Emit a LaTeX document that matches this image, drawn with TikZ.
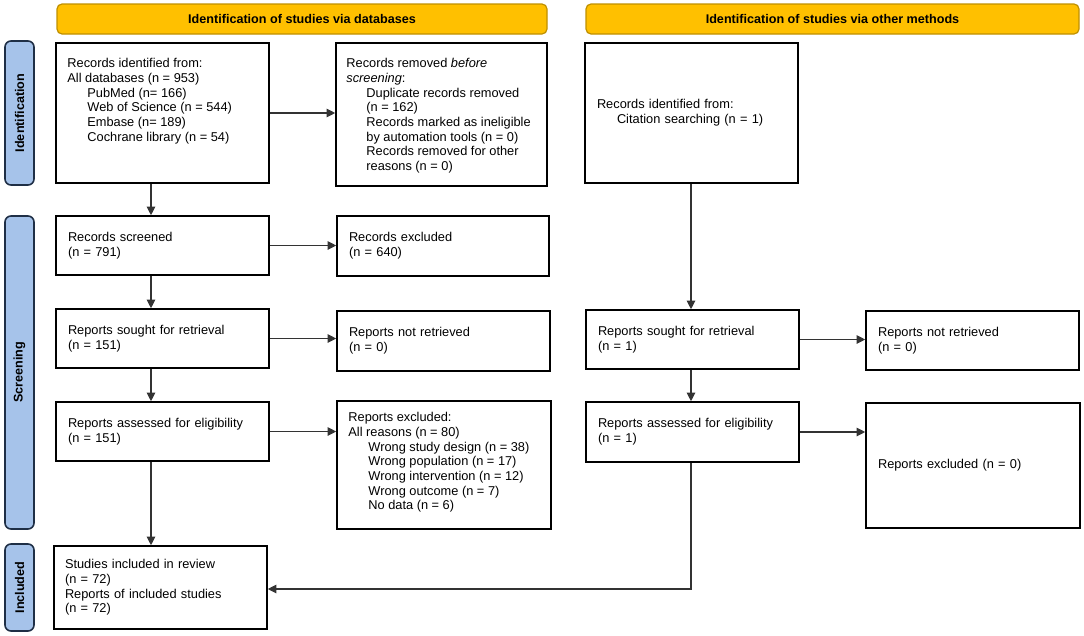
\documentclass[tikz,border=0pt]{standalone}
\usepackage{fontspec}
\setmainfont{Liberation Sans}
\usetikzlibrary{arrows.meta,calc}
\definecolor{hdrfill}{HTML}{FFC000}
\definecolor{hdrdraw}{HTML}{BF9000}
\definecolor{barfill}{HTML}{A6C3EA}
\definecolor{bardraw}{HTML}{1F2F46}
\definecolor{linec}{HTML}{333333}
\begin{document}
\begin{tikzpicture}[x=1pt,y=-1pt,
  basefont/.style={font=\fontsize{12.8}{14.7}\selectfont},
  hdr/.style={draw=hdrdraw, fill=hdrfill, line width=1.2pt, rounded corners=5pt,
    font=\fontsize{12.6}{14.7}\selectfont\bfseries, inner sep=0pt},
  bar/.style={draw=bardraw, fill=barfill, line width=1.6pt, rounded corners=6pt,
    inner sep=0pt, rotate=90, font=\fontsize{12.6}{14.7}\selectfont\bfseries},
  box/.style={basefont, draw=black, line width=1.6pt, fill=white,
    inner xsep=12pt, inner ysep=0pt, align=left},
  txt/.style={basefont, inner sep=0pt, align=left},
  arr/.style={draw=linec, line width=1.1pt, -{Triangle[length=8.5pt,width=8.5pt]}},
  ln/.style={draw=linec, line width=1.1pt}
]
\useasboundingbox (0,0) rectangle (1084,635);

% headers
\node[hdr, minimum width=490, minimum height=30] (h1) at (302,19) {Identification of studies via databases};
\node[hdr, minimum width=493, minimum height=30] (h2) at (832.5,19) {Identification of studies via other methods};

% side bars
\node[bar, minimum width=144, minimum height=29] (bid) at (19.5,113) {Identification};
\node[bar, minimum width=313, minimum height=29] (bscr) at (19.5,372.5) {Screening};
\node[bar, minimum width=87, minimum height=29] (binc) at (19.5,587.5) {Included};

% left column
\node[box, minimum width=213, minimum height=140] (ident) at (162.5,113) {};
\node[txt, anchor=north west] (identt) at ([shift={(12,16)}]ident.north west)
  {Records identified from:\\All databases (n = 953)\\
   \hspace*{20pt}PubMed (n= 166)\\\hspace*{20pt}Web of Science (n = 544)\\
   \hspace*{20pt}Embase (n= 189)\\\hspace*{20pt}Cochrane library (n = 54)};

\node[box, minimum width=211, minimum height=143] (removed) at (441.5,114.5) {};
\node[txt, anchor=north west] (removedt) at ([shift={(11,16)}]removed.north west)
  {Records removed \textit{before}\\\textit{screening}:\\
   \hspace*{20pt}Duplicate records removed\\\hspace*{20pt}(n = 162)\\
   \hspace*{20pt}Records marked as ineligible\\\hspace*{20pt}by automation tools (n = 0)\\
   \hspace*{20pt}Records removed for other\\\hspace*{20pt}reasons (n = 0)};

\node[box, minimum width=213, minimum height=59, text width=189] (screened) at (162.5,245.5)
  {Records screened\\(n = 791)};
\node[box, minimum width=212, minimum height=60, text width=188] (excl) at (443,246)
  {Records excluded\\(n = 640)};

\node[box, minimum width=213, minimum height=59, text width=189] (sought) at (162.5,338.5)
  {Reports sought for retrieval\\(n = 151)};
\node[box, minimum width=213, minimum height=60, text width=189] (notret) at (443.5,341)
  {Reports not retrieved\\(n = 0)};

\node[box, minimum width=213, minimum height=59, text width=189] (assessed) at (162.5,431.5)
  {Reports assessed for eligibility\\(n = 151)};
\node[box, minimum width=214, minimum height=128] (exclrep) at (444,465) {};
\node[txt, anchor=north west] (exclrept) at ([shift={(12,12)}]exclrep.north west)
  {Reports excluded:\\All reasons (n = 80)\\
   \hspace*{20pt}Wrong study design (n = 38)\\\hspace*{20pt}Wrong population (n = 17)\\
   \hspace*{20pt}Wrong intervention (n = 12)\\\hspace*{20pt}Wrong outcome (n = 7)\\
   \hspace*{20pt}No data (n = 6)};

\node[box, minimum width=213, minimum height=83, text width=191, inner xsep=11pt] (included) at (160.5,587.5)
  {Studies included in review\\(n = 72)\\Reports of included studies\\(n = 72)};

% right column
\node[box, minimum width=213, minimum height=140, text width=189] (cite) at (691.5,113)
  {Records identified from:\\\hspace*{20pt}Citation searching (n = 1)};
\node[box, minimum width=213, minimum height=59, text width=189] (sought2) at (692.5,339.5)
  {Reports sought for retrieval\\(n = 1)};
\node[box, minimum width=213, minimum height=59, text width=189] (notret2) at (972.5,340.5)
  {Reports not retrieved\\(n = 0)};
\node[box, minimum width=213, minimum height=60, text width=189] (assessed2) at (692.5,432)
  {Reports assessed for eligibility\\(n = 1)};
\node[box, minimum width=214, minimum height=125, text width=190] (exclrep2) at (973,465.5)
  {Reports excluded (n = 0)};

% connectors
\coordinate (xl) at (151,0);
\coordinate (xr) at (691,0);
\draw[arr] (ident.east) -- (ident.east -| removed.west);
\draw[arr] (ident.south -| xl) -- (screened.north -| xl);
\draw[arr] (screened.east) -- (screened.east -| excl.west);
\draw[arr] (screened.south -| xl) -- (sought.north -| xl);
\draw[arr] (sought.east) -- (sought.east -| notret.west);
\draw[arr] (sought.south -| xl) -- (assessed.north -| xl);
\draw[arr] (assessed.east) -- (assessed.east -| exclrep.west);
\draw[arr] (assessed.south -| xl) -- (included.north -| xl);

\draw[arr] (cite.south -| xr) -- (sought2.north -| xr);
\draw[arr] (sought2.east) -- (sought2.east -| notret2.west);
\draw[arr] (sought2.south -| xr) -- (assessed2.north -| xr);
\draw[arr] (assessed2.east) -- (assessed2.east -| exclrep2.west);
\draw[arr] (assessed2.south -| xr) -- ([yshift=-1.5pt]included.east -| xr) -- ([yshift=-1.5pt]included.east);
\end{tikzpicture}
\end{document}
